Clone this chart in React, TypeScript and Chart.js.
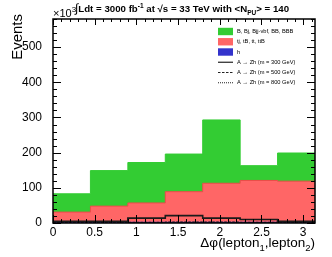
import { useEffect, useRef } from "react";
import { Chart, registerables } from "chart.js";
Chart.register(...registerables);

const FONT = "'Liberation Sans', Arial, Helvetica, sans-serif";

const binEdges = [0, 0.4488, 0.8976, 1.3464, 1.7952, 2.244, 2.6928, 3.1416];
const hVals = [1, 1, 2, 2, 2, 2, 1];
const ttVals = [30, 47, 55, 87, 111, 119, 118];
const bVals = [52, 101, 115, 107, 180, 42, 80];
const sig300 = [5, 5, 14, 21, 14, 10, 5];
const sig500 = [1, 1, 2, 3, 3, 2, 1];
const sig800 = [0, 0, 1, 1, 1, 1, 1];
const xTicks = [0, 0.5, 1, 1.5, 2, 2.5, 3];
const yTicks = [0, 100, 200, 300, 400, 500];
const yMax = 580;

const legendItems = [
  { label: "B, Bj, Bjj-vbf, BB, BBB", kind: "box", color: "#33cc33" },
  { label: "tj, tB, tt, ttB", kind: "box", color: "#ff6666" },
  { label: "h", kind: "box", color: "#3333cc" },
  { label: "A \u2192 Zh (m = 300 GeV)", kind: "line", dash: [] as number[] },
  { label: "A \u2192 Zh (m = 500 GeV)", kind: "line", dash: [2.5, 1.5] },
  { label: "A \u2192 Zh (m = 800 GeV)", kind: "line", dash: [1, 1] },
];

function stepPoints(vals: number[]) {
  const pts = vals.map((v, i) => ({ x: binEdges[i], y: v }));
  pts.push({ x: binEdges[binEdges.length - 1], y: vals[vals.length - 1] });
  return pts;
}

function addArr(a: number[], b: number[]) {
  return a.map((v, i) => v + b[i]);
}

type Part = { t: string; size: number; dy?: number; bold?: boolean };

function drawRich(ctx: CanvasRenderingContext2D, x: number, y: number, parts: Part[], align: "left" | "right" = "left") {
  const setFont = (p: Part) => {
    ctx.font = `${p.bold ? "bold " : ""}${p.size}px ${FONT}`;
  };
  let total = 0;
  for (const p of parts) {
    setFont(p);
    total += ctx.measureText(p.t).width;
  }
  let cx = align === "right" ? x - total : x;
  ctx.textAlign = "left";
  ctx.textBaseline = "alphabetic";
  for (const p of parts) {
    setFont(p);
    ctx.fillText(p.t, cx, y + (p.dy || 0));
    cx += ctx.measureText(p.t).width;
  }
}

const decorPlugin = {
  id: "decor",
  afterDraw(chart: any) {
    const ctx: CanvasRenderingContext2D = chart.ctx;
    const { left, right, top, bottom } = chart.chartArea;
    const xs = chart.scales.x;
    const ys = chart.scales.y;
    ctx.save();
    ctx.fillStyle = "#000";
    ctx.strokeStyle = "#000";
    ctx.lineWidth = 1;
    // ticks
    ctx.beginPath();
    for (let i = 0; i <= 31; i++) {
      const v = i / 10;
      const px = Math.round(xs.getPixelForValue(v)) + 0.5;
      const major = i % 5 === 0;
      const lb = major ? 8 : 4;
      const lt = major ? 6 : 3;
      ctx.moveTo(px, bottom);
      ctx.lineTo(px, bottom - lb);
      ctx.moveTo(px, top);
      ctx.lineTo(px, top + lt);
    }
    for (let v = 0; v <= yMax; v += 20) {
      const py = Math.round(ys.getPixelForValue(v)) + 0.5;
      const major = v % 100 === 0;
      const l = major ? 8 : 4;
      ctx.moveTo(left, py);
      ctx.lineTo(left + l, py);
      ctx.moveTo(right, py);
      ctx.lineTo(right - l, py);
    }
    ctx.stroke();
    // frame
    ctx.lineWidth = 1.5;
    ctx.strokeRect(left, top, right - left, bottom - top);

    // axis titles
    ctx.save();
    ctx.translate(22, 14);
    ctx.rotate(-Math.PI / 2);
    ctx.font = `15px ${FONT}`;
    ctx.textAlign = "right";
    ctx.textBaseline = "alphabetic";
    ctx.fillText("Events", 0, 0);
    ctx.restore();

    drawRich(ctx, right, 247, [
      { t: "\u0394\u03c6(lepton", size: 13.5 },
      { t: "1", size: 9.5, dy: 4 },
      { t: ",lepton", size: 13.5 },
      { t: "2", size: 9.5, dy: 4 },
      { t: ")", size: 13.5 },
    ], "right");

    // x10^3
    drawRich(ctx, 53, 17, [
      { t: "\u00d710", size: 11 },
      { t: "3", size: 8, dy: -5 },
    ]);

    // title
    drawRich(ctx, 75, 11.5, [
      { t: "\u222b", size: 12 },
      { t: "Ldt = 3000 fb", size: 9.7, bold: true },
      { t: "-1", size: 6.5, dy: -4, bold: true },
      { t: " at \u221as = 33 TeV with <N", size: 9.7, bold: true },
      { t: "PU", size: 6.5, dy: 3, bold: true },
      { t: "> = 140", size: 9.7, bold: true },
    ]);

    // legend
    const lx = 218;
    const lw = 15;
    const ly0 = 31.5;
    const dy = 10.25;
    legendItems.forEach((it, i) => {
      const cy = ly0 + i * dy;
      if (it.kind === "box") {
        ctx.fillStyle = it.color as string;
        ctx.fillRect(lx, cy - 3.7, lw, 7.4);
      } else {
        ctx.strokeStyle = "#222";
        ctx.lineWidth = 1.2;
        ctx.setLineDash(it.dash as number[]);
        ctx.beginPath();
        ctx.moveTo(lx, cy);
        ctx.lineTo(lx + lw, cy);
        ctx.stroke();
        ctx.setLineDash([]);
      }
      ctx.fillStyle = "#000";
      ctx.font = `5.7px ${FONT}`;
      ctx.textAlign = "left";
      ctx.textBaseline = "middle";
      ctx.fillText(it.label, 237, cy);
    });
    ctx.restore();
  },
};

export default function App() {
  const ref = useRef<HTMLCanvasElement>(null);
  useEffect(() => {
    if (!ref.current) return;
    const redTop = addArr(hVals, ttVals);
    const greenTop = addArr(redTop, bVals);
    const common = { stepped: "before", pointRadius: 0 };
    const chart = new Chart(ref.current, {
      type: "line",
      data: {
        datasets: [
          { ...common, data: stepPoints(sig800), borderColor: "#222", borderWidth: 1, borderDash: [1, 1], fill: false, order: 0 },
          { ...common, data: stepPoints(sig500), borderColor: "#222", borderWidth: 1, borderDash: [2.5, 1.5], fill: false, order: 1 },
          { ...common, data: stepPoints(sig300), borderColor: "#1a1a1a", borderWidth: 1.6, fill: false, order: 2 },
          { ...common, data: stepPoints(hVals), borderColor: "#3333cc", backgroundColor: "#3333cc", borderWidth: 1, fill: "origin", order: 3 },
          { ...common, data: stepPoints(redTop), borderColor: "#ee4a4a", backgroundColor: "#ff6666", borderWidth: 1, fill: "origin", order: 4 },
          { ...common, data: stepPoints(greenTop), borderColor: "#33cc33", backgroundColor: "#33cc33", borderWidth: 1, fill: "origin", order: 5 },
        ] as any,
      },
      options: {
        animation: false,
        responsive: false,
        events: [],
        layout: { padding: { top: 19, right: 17, left: 0, bottom: 0 } },
        plugins: { legend: { display: false }, tooltip: { enabled: false }, title: { display: false } },
        scales: {
          x: {
            type: "linear",
            min: 0,
            max: Math.PI,
            grid: { display: false },
            border: { display: false },
            afterBuildTicks: (s: any) => {
              s.ticks = xTicks.map((v) => ({ value: v }));
            },
            afterFit: (s: any) => {
              s.height = 34;
            },
            ticks: {
              font: { family: FONT, size: 12 },
              color: "#000",
              padding: -6,
              maxRotation: 0,
              autoSkip: false,
              callback: (v: any) => String(v),
            },
          },
          y: {
            type: "linear",
            min: 0,
            max: yMax,
            grid: { display: false },
            border: { display: false },
            afterBuildTicks: (s: any) => {
              s.ticks = yTicks.map((v) => ({ value: v }));
            },
            afterFit: (s: any) => {
              s.width = 53;
            },
            ticks: {
              font: { family: FONT, size: 12 },
              color: "#000",
              padding: 3,
              callback: (v: any) => String(v),
            },
          },
        },
      },
      plugins: [decorPlugin],
    });
    return () => chart.destroy();
  }, []);
  return (
    <div style={{ position: "absolute", left: 0, top: 0, width: 332, height: 257, background: "#fff" }}>
      <canvas ref={ref} width={332} height={257} style={{ width: 332, height: 257, display: "block" }} />
    </div>
  );
}
